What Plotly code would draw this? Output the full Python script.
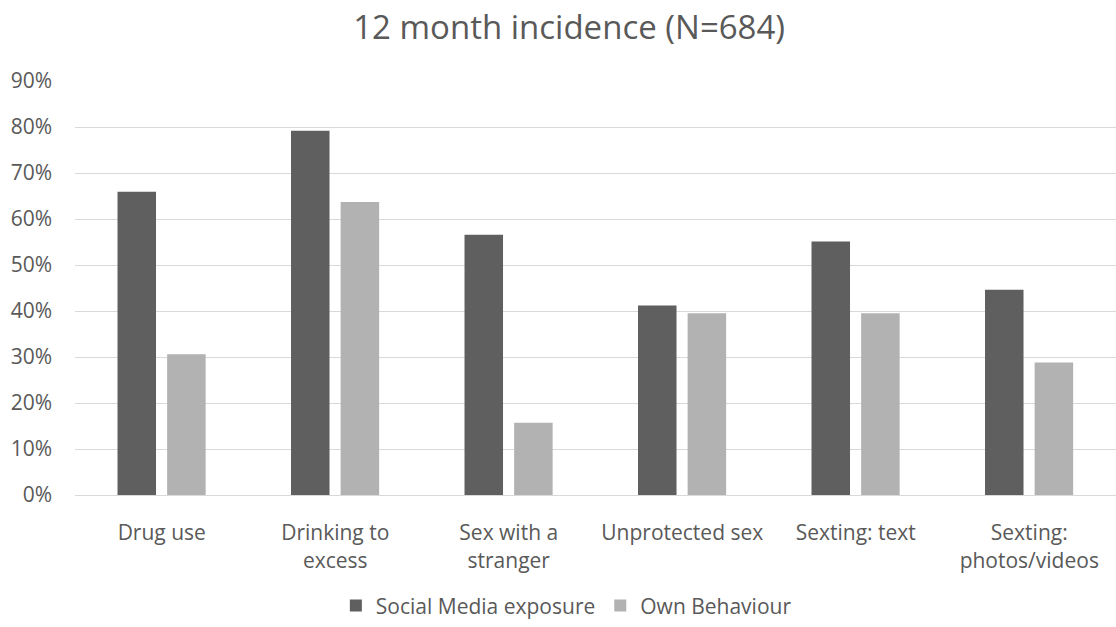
import plotly.graph_objects as go

# Behaviours shown on the x axis
categories = [
    "Drug use",
    "Drinking to<br>excess",
    "Sex with a<br>stranger",
    "Unprotected sex",
    "Sexting: text",
    "Sexting:<br>photos/videos",
]

# Share of respondents (fraction of N=684)
social_media_exposure = [0.659, 0.792, 0.566, 0.412, 0.551, 0.446]
own_behaviour = [0.306, 0.637, 0.157, 0.395, 0.395, 0.288]

series_names = ["Social Media exposure", "Own Behaviour"]
y_tick_values = [0, 0.1, 0.2, 0.3, 0.4, 0.5, 0.6, 0.7, 0.8, 0.9]

TEXT = "#595959"
FONT = "Open Sans"
BAR_W = 0.222

fig = go.Figure()
fig.add_trace(go.Bar(
    x=categories, y=social_media_exposure, name=series_names[0],
    marker=dict(color="#5f5f5f", line=dict(width=0)),
    width=BAR_W, offset=-0.255,
))
fig.add_trace(go.Bar(
    x=categories, y=own_behaviour, name=series_names[1],
    marker=dict(color="#b2b2b2", line=dict(width=0)),
    width=BAR_W, offset=0.031,
))

fig.update_layout(
    width=1116, height=627,
    margin=dict(l=75, r=0, t=81, b=125),
    paper_bgcolor="white", plot_bgcolor="white",
    barmode="overlay",
    font=dict(family=FONT, color=TEXT, size=21),
    title=dict(
        text="12 month incidence (N=684)",
        font=dict(family=FONT, size=33, color=TEXT),
        xref="container", x=0.51, xanchor="center",
        yref="container", y=0.957, yanchor="middle",
    ),
    legend=dict(
        orientation="h", x=0.472, xanchor="center",
        y=-0.268, yanchor="middle",
        font=dict(family=FONT, size=21, color=TEXT),
        itemwidth=30, traceorder="normal",
    ),
    showlegend=True,
)

fig.update_yaxes(
    range=[0, 0.9], tickvals=y_tick_values, tickformat=".0%",
    showgrid=True, gridcolor="#d9d9d9", gridwidth=1,
    zeroline=False, showline=False,
    ticks="", ticklabelstandoff=22,
    tickfont=dict(family=FONT, size=21, color=TEXT),
)
fig.update_xaxes(
    showgrid=False, showline=True, linecolor="#d9d9d9", linewidth=1,
    ticks="", ticklabelstandoff=19,
    tickfont=dict(family=FONT, size=21, color=TEXT),
)

fig.write_html("out.html")
